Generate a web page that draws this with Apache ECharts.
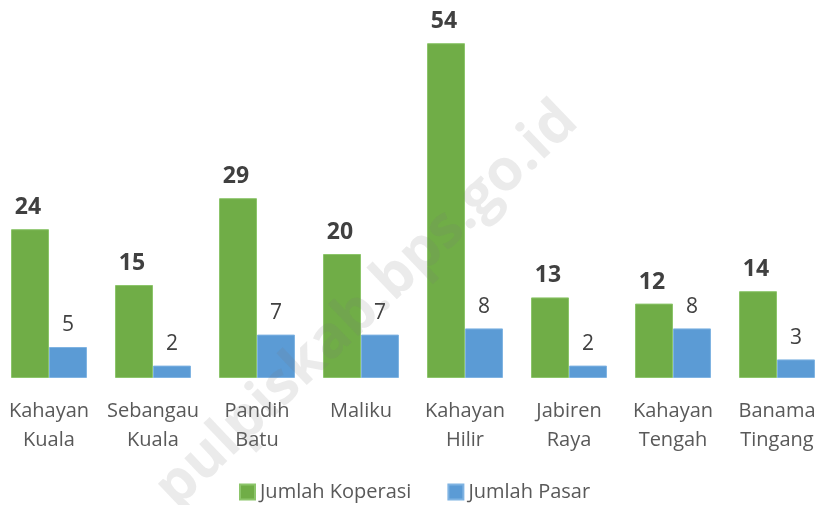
<!DOCTYPE html>
<html>
<head>
<meta charset="utf-8">
<script src="https://cdn.jsdelivr.net/npm/echarts@6/dist/echarts.min.js"></script>
<style>
  html, body { margin: 0; padding: 0; background: #fff; overflow: hidden; }
  /* plot area runs slightly past the window edges, like the original */
  #main { width: 832px; height: 505px; margin-left: -3px; }
</style>
</head>
<body>
<div id="main"></div>
<script>
// data
var categories = ['Kahayan\nKuala', 'Sebangau\nKuala', 'Pandih\nBatu', 'Maliku',
    'Kahayan\nHilir', 'Jabiren\nRaya', 'Kahayan\nTengah', 'Banama\nTingang'];
var koperasi = [24, 15, 29, 20, 54, 13, 12, 14];
var pasar = [5, 2, 7, 7, 8, 2, 8, 3];

var fontFamily = '"Open Sans", "Noto Sans", sans-serif';

var myChart = echarts.init(document.getElementById('main'));

myChart.setOption({
    animation: false,
    grid: {
        left: 0,
        right: 0,
        top: 6,
        height: 372,
        outerBoundsMode: 'none'
    },
    legend: {
        top: 477,
        left: 237,
        itemWidth: 15,
        itemHeight: 15,
        itemGap: 36,
        icon: 'rect',
        textStyle: { fontFamily: fontFamily, fontSize: 20, color: '#595959' },
        data: ['Jumlah Koperasi', 'Jumlah Pasar']
    },
    xAxis: {
        type: 'category',
        data: categories,
        axisLine: { show: false },
        axisTick: { show: false },
        axisLabel: {
            margin: 19,
            interval: 0,
            fontFamily: fontFamily,
            fontSize: 20,
            lineHeight: 29,
            color: '#595959'
        }
    },
    yAxis: {
        type: 'value',
        min: 0,
        max: 60,
        show: false,
        splitLine: { show: false }
    },
    series: [
        {
            name: 'Jumlah Koperasi',
            type: 'bar',
            data: koperasi,
            barGap: '0%',
            barCategoryGap: '27%',
            itemStyle: { color: '#70AD47', borderColor: '#8cc56a', borderWidth: 1 },
            label: {
                show: true,
                position: 'top',
                distance: 10,
                offset: [-2, 0],
                fontFamily: fontFamily,
                fontSize: 23,
                fontWeight: 'bold',
                color: '#404040'
            }
        },
        {
            name: 'Jumlah Pasar',
            type: 'bar',
            data: pasar,
            itemStyle: { color: '#5B9BD5', borderColor: '#7fb3e2', borderWidth: 1 },
            label: {
                show: true,
                position: 'top',
                distance: 11,
                fontFamily: fontFamily,
                fontSize: 21,
                color: '#404040'
            }
        }
    ],
    graphic: [
        {
            type: 'text',
            x: 370,
            y: 305,
            rotation: Math.PI / 4 * 0.97,
            z: 100,
            style: {
                text: 'pulpiskab.bps.go.id',
                x: 0,
                y: 0,
                align: 'center',
                verticalAlign: 'middle',
                font: 'bold 58px ' + fontFamily,
                fill: 'rgba(120,120,120,0.15)'
            }
        }
    ]
});
</script>
</body>
</html>
